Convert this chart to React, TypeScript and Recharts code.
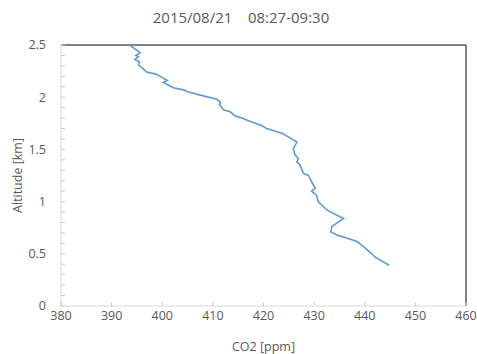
import React from 'react';
import { LineChart, Line, XAxis, YAxis, ReferenceLine } from 'recharts';

// CO2 profile, from the lowest point upward
const co2 = [
  444.8, 442.0, 441.4, 439.7, 438.4, 434.5, 433.3, 433.5, 435.8, 434.5, 432.5, 430.8, 430.5,
  429.5, 430.2, 429.5, 428.9, 427.9, 427.2, 426.6, 426.9, 426.2, 425.9, 426.6, 424.9, 423.9,
  420.6, 419.6, 417.3, 415.7, 414.4, 413.4, 412.1, 411.3, 411.5, 410.8, 407.5, 405.2, 404.2,
  402.2, 400.2, 401.0, 399.6, 398.9, 397.0, 395.3, 395.5, 394.6, 395.3, 394.8, 395.6, 393.6,
];
const altitude = [
  0.39, 0.47, 0.5, 0.57, 0.62, 0.68, 0.71, 0.76, 0.84, 0.87, 0.92, 1.0, 1.06,
  1.1, 1.13, 1.19, 1.25, 1.27, 1.35, 1.38, 1.41, 1.45, 1.51, 1.57, 1.62, 1.65,
  1.7, 1.73, 1.77, 1.8, 1.82, 1.86, 1.88, 1.93, 1.95, 1.98, 2.02, 2.05, 2.07,
  2.09, 2.14, 2.16, 2.2, 2.22, 2.24, 2.31, 2.34, 2.36, 2.39, 2.4, 2.426, 2.5,
];

const xTicks = [380, 390, 400, 410, 420, 430, 440, 450, 460];
const yTicks = [0, 0.5, 1, 1.5, 2, 2.5];
const yMinorTicks = [
  0, 0.1, 0.2, 0.3, 0.4, 0.5, 0.6, 0.7, 0.8, 0.9, 1, 1.1, 1.2,
  1.3, 1.4, 1.5, 1.6, 1.7, 1.8, 1.9, 2, 2.1, 2.2, 2.3, 2.4, 2.5,
];

const title = '2015/08/21\u00a0\u00a0\u00a0 08:27-09:30';

const data = co2.map((c, i) => ({ co2: c, alt: altitude[i] }));

const textColor = '#595959';
const tickColor = '#c8c8c8';
const font = '"Open Sans", sans-serif';

// x label sits 5px under the axis; draw a short tick pointing up into the plot
const XTick = ({ x, y, payload }: any) => (
  <g>
    <line x1={x} x2={x} y1={y - 5} y2={y - 9} stroke={tickColor} />
    <text x={x} y={y} dy="0.71em" textAnchor="middle" fill={textColor} fontSize={12.5} fontFamily={font}>
      {payload.value}
    </text>
  </g>
);

// y label sits 15px left of the axis; minor ticks every 0.1 inside the plot
const YTick = ({ x, y, payload }: any) => (
  <g>
    <line x1={x + 15} x2={x + 19} y1={y} y2={y} stroke={tickColor} />
    {yTicks.includes(payload.value) && (
      <text x={x} y={y} dy="0.355em" textAnchor="end" fill={textColor} fontSize={12.5} fontFamily={font}>
        {payload.value}
      </text>
    )}
  </g>
);

export default function App() {
  return (
    <div style={{ position: 'absolute', left: 0, top: 0, width: 477, height: 354, background: '#fff', fontFamily: font }}>
      <div style={{ position: 'absolute', left: 0, width: 482, top: 7, textAlign: 'center', fontSize: 15, color: textColor }}>
        {title}
      </div>
      <LineChart width={477} height={354} data={data} margin={{ top: 45, right: 11, left: 0, bottom: 0 }}>
        <XAxis
          dataKey="co2"
          type="number"
          domain={[380, 460]}
          ticks={xTicks}
          interval={0}
          height={48}
          tickLine={false}
          tickSize={5}
          tickMargin={0}
          axisLine={{ stroke: '#d9d9d9' }}
          tick={<XTick />}
          label={{ value: 'CO2 [ppm]', position: 'insideBottom', offset: 3, fill: textColor, fontSize: 12.5, fontFamily: font }}
        />
        <YAxis
          dataKey="alt"
          type="number"
          domain={[0, 2.5]}
          ticks={yMinorTicks}
          interval={0}
          width={61}
          tickLine={false}
          tickSize={8}
          tickMargin={7}
          axisLine={{ stroke: '#d9d9d9' }}
          tick={<YTick />}
          label={{ value: 'Altitude [km]', angle: -90, position: 'insideLeft', offset: 18, fill: textColor, fontSize: 12.5, fontFamily: font, style: { textAnchor: 'middle' } }}
        />
        <ReferenceLine y={2.5} stroke="#595959" strokeWidth={1.5} />
        <ReferenceLine x={460} stroke="#595959" strokeWidth={1.5} />
        <Line
          type="linear"
          dataKey="alt"
          stroke="#5b9bd5"
          strokeWidth={1.6}
          dot={false}
          isAnimationActive={false}
        />
      </LineChart>
    </div>
  );
}
